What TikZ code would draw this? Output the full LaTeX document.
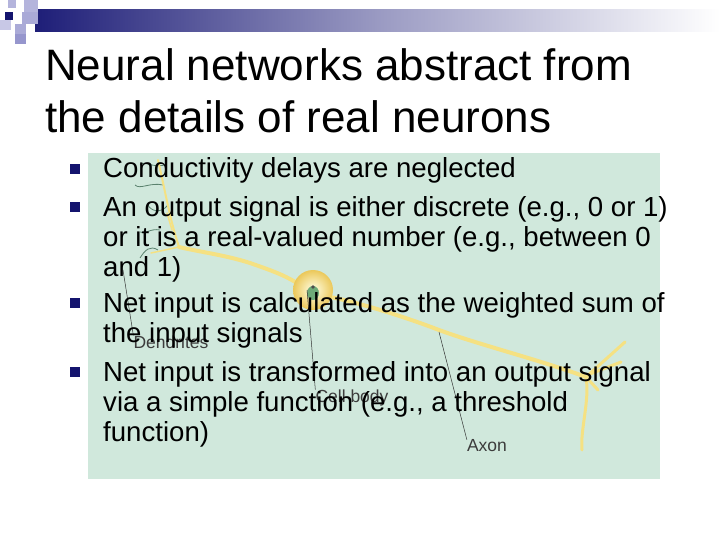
\documentclass[tikz,border=0pt]{standalone}
\usepackage{fontspec}
\setmainfont{Liberation Sans}
\definecolor{navy}{RGB}{20,20,110}
\definecolor{navyb}{RGB}{30,30,120}
\definecolor{sqa}{RGB}{180,180,220}
\definecolor{sqb}{RGB}{170,170,215}
\definecolor{sqc}{RGB}{200,200,230}
\definecolor{sqd}{RGB}{150,150,205}
\definecolor{bg}{RGB}{208,232,220}
\definecolor{neurfill}{RGB}{245,225,130}
\definecolor{dendc}{RGB}{90,130,110}
\definecolor{bodyin}{RGB}{255,255,230}
\definecolor{bodyout}{RGB}{235,200,90}
\definecolor{nucl}{RGB}{110,170,120}
\definecolor{lblc}{RGB}{60,60,60}
\begin{document}
\begin{tikzpicture}[x=1pt,y=-1pt,
  bul/.style={fill=navy},
  txt/.style={anchor=base west,inner sep=0,font=\fontsize{27.6}{30}\selectfont},
  lbl/.style={inner sep=0,font=\fontsize{17.5}{18}\selectfont,text=lblc},
  neur/.style={draw=neurfill,line width=4pt,line cap=round,line join=round},
  dend/.style={draw=dendc,line width=0.8pt},
  pointer/.style={draw=black!80,line width=0.5pt}]
\useasboundingbox (0,0) rectangle (720,540);
\fill[white] (0,0) rectangle (720,540);
% banner
\shade[left color=navyb,right color=white,middle color=navyb!45] (35,10) rectangle (720,32);
\fill[sqa] (8,0) rectangle (16,8);
\fill[sqa] (24,0) rectangle (38,12);
\fill[navy] (5,12) rectangle (13,20);
\fill[sqb] (22,12) rectangle (38,24);
\fill[sqc] (0,20) rectangle (11,30);
\fill[sqb] (15,24) rectangle (26,34);
\fill[sqd] (15,34) rectangle (26,44);
% title
\node[anchor=base west,inner sep=0,font=\fontsize{44}{52}\selectfont] (t1) at (45,81) {Neural networks abstract from};
\node[anchor=base west,inner sep=0,font=\fontsize{44}{52}\selectfont] (t2) at (45,133) {the details of real neurons};
% picture background
\fill[bg] (88,153) rectangle (660,479);
% neuron
\draw[dend] (165,165) .. controls (150,168) and (145,160) .. (140,165);
\draw[dend] (163,185) .. controls (150,182) and (140,190) .. (135,185);
\draw[dend] (168,205) .. controls (160,215) and (150,210) .. (148,205);
\draw[dend] (160,230) .. controls (150,228) and (145,235) .. (140,232);
\draw[dend] (158,250) .. controls (150,245) and (145,250) .. (140,258);
\draw[neur,line width=2pt] (158,160) .. controls (165,190) and (170,220) .. (179,247);
\draw[neur,line width=1.5pt] (167,213) -- (172,230);
\draw[neur,line width=1.5pt] (151,253) -- (179,247);
\draw[neur] (179,247) .. controls (200,252) and (225,255) .. (250,263)
  .. controls (270,270) and (285,275) .. (300,285);
\draw[neur] (320,295) .. controls (350,300) and (400,315) .. (439,330)
  .. controls (480,345) and (540,360) .. (586,377);
\draw[neur,line width=3pt] (586,377) -- (625,342);
\draw[neur,line width=3pt] (590,374) -- (621,362);
\draw[neur,line width=3pt] (586,377) -- (598,390);
\draw[neur,line width=3pt] (586,377) .. controls (590,400) and (580,430) .. (582,450);
\node[circle,minimum size=40pt,inner sep=0,inner color=bodyin,outer color=bodyout] (body) at (313,290) {};
\fill[nucl] (313,293) ellipse (6pt and 7pt);
\fill[black!70] (313,287) circle (1.8pt);
% labels
\coordinate (pd) at (123,270); \coordinate (pc) at (307,290); \coordinate (pa) at (439,332);
\node[lbl] (ld) at (171,342) {Dendrites};
\node[lbl] (lc) at (352,398) {Cell body};
\node[lbl] (la) at (487,446) {Axon};
\draw[pointer] (pd) -- (ld.north west);
\draw[pointer] (pc) -- (lc.north west);
\draw[pointer] (pa) -- (la.north west);
% bullets
\foreach \y in {169,207,303,372} \fill[bul] (70,\y-5) rectangle (80,\y+5);
\node[txt] (b1) at (103,178) {Conductivity delays are neglected};
\node[txt] (b2a) at (103,216) {An output signal is either discrete (e.g., 0 or 1)};
\node[txt] (b2b) at (103,246) {or it is a real-valued number (e.g., between 0};
\node[txt] (b2c) at (103,276) {and 1)};
\node[txt] (b3a) at (103,312) {Net input is calculated as the weighted sum of};
\node[txt] (b3b) at (103,342) {the input signals};
\node[txt] (b4a) at (103,381) {Net input is transformed into an output signal};
\node[txt] (b4b) at (103,411) {via a simple function (e.g., a threshold};
\node[txt] (b4c) at (103,441) {function)};
\end{tikzpicture}
\end{document}
